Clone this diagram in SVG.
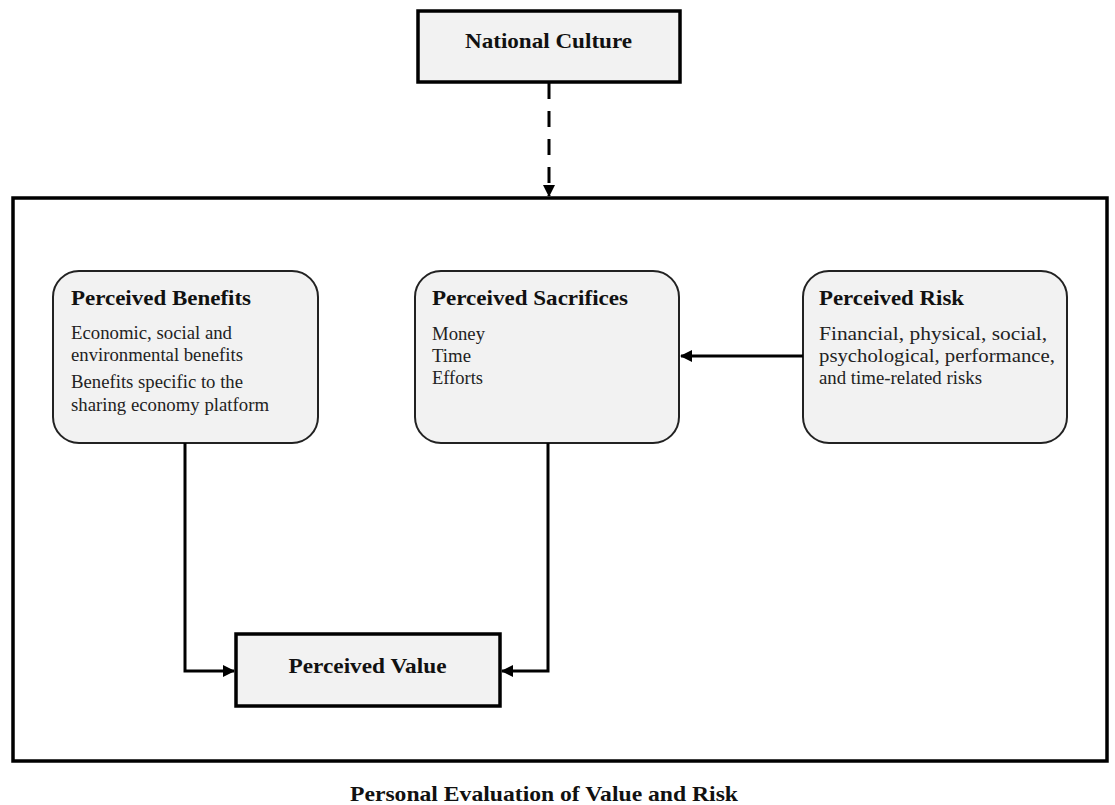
<svg xmlns="http://www.w3.org/2000/svg" width="1115" height="805" viewBox="0 0 1115 805">
<defs>
<style>
.box{fill:#f2f2f2;stroke:#000;stroke-width:3.5}
.rbox{fill:#f2f2f2;stroke:#222;stroke-width:2}
.outer{fill:none;stroke:#000;stroke-width:3.5}
.t{font-family:"Liberation Serif","Times New Roman",serif;font-weight:bold;fill:#111}
.b{font-family:"Liberation Serif","Times New Roman",serif;fill:#222;font-size:18.5px}
.c{fill:none;stroke:#000;stroke-width:3}
</style>
<marker id="ah" markerWidth="14" markerHeight="14" refX="11" refY="6" orient="auto" markerUnits="userSpaceOnUse">
<path d="M0,0 L12,6 L0,12 Z" fill="#000"/>
</marker>
</defs>
<rect width="1115" height="805" fill="#fff"/>

<g id="outer-frame">
<rect class="outer" x="13" y="198" width="1094" height="563"/>
</g>

<g id="national-culture">
<rect class="box" x="418" y="11" width="262" height="71"/>
<text class="t" x="548.5" y="48" font-size="21.5" text-anchor="middle" textLength="167" lengthAdjust="spacingAndGlyphs">National Culture</text>
</g>

<g id="perceived-benefits">
<rect class="rbox" x="53" y="271" width="265" height="172" rx="26" ry="26"/>
<text class="t" x="71" y="305" font-size="22" textLength="180" lengthAdjust="spacingAndGlyphs">Perceived Benefits</text>
<text class="b" x="71" y="339" textLength="161" lengthAdjust="spacingAndGlyphs">Economic, social and</text>
<text class="b" x="71" y="361" textLength="172" lengthAdjust="spacingAndGlyphs">environmental benefits</text>
<text class="b" x="71" y="388" textLength="172" lengthAdjust="spacingAndGlyphs">Benefits specific to the</text>
<text class="b" x="71" y="411" textLength="198" lengthAdjust="spacingAndGlyphs">sharing economy platform</text>
</g>

<g id="perceived-sacrifices">
<rect class="rbox" x="415" y="271" width="264" height="172" rx="26" ry="26"/>
<text class="t" x="432" y="305" font-size="22" textLength="196" lengthAdjust="spacingAndGlyphs">Perceived Sacrifices</text>
<text class="b" x="432" y="340" textLength="53" lengthAdjust="spacingAndGlyphs">Money</text>
<text class="b" x="432" y="362" textLength="39" lengthAdjust="spacingAndGlyphs">Time</text>
<text class="b" x="432" y="384" textLength="51" lengthAdjust="spacingAndGlyphs">Efforts</text>
</g>

<g id="perceived-risk">
<rect class="rbox" x="803" y="271" width="264" height="172" rx="26" ry="26"/>
<text class="t" x="819" y="305" font-size="22" textLength="145" lengthAdjust="spacingAndGlyphs">Perceived Risk</text>
<text class="b" x="819" y="340" textLength="228" lengthAdjust="spacingAndGlyphs">Financial, physical, social,</text>
<text class="b" x="819" y="362" textLength="236" lengthAdjust="spacingAndGlyphs">psychological, performance,</text>
<text class="b" x="819" y="384" textLength="163" lengthAdjust="spacingAndGlyphs">and time-related risks</text>
</g>

<g id="perceived-value">
<rect class="box" x="236" y="634" width="264" height="72"/>
<text class="t" x="367.5" y="673" font-size="21.5" text-anchor="middle" textLength="158" lengthAdjust="spacingAndGlyphs">Perceived Value</text>
</g>

<g id="connectors">
<path class="c" d="M549,83 V196" stroke-dasharray="16,12" marker-end="url(#ah)"/>
<path class="c" d="M803,356 H681" marker-end="url(#ah)"/>
<path class="c" d="M185,443 V671 H234" marker-end="url(#ah)"/>
<path class="c" d="M548,443 V671 H502" marker-end="url(#ah)"/>
</g>

<g id="caption">
<text class="t" x="544" y="801" font-size="22" text-anchor="middle" textLength="388" lengthAdjust="spacingAndGlyphs">Personal Evaluation of Value and Risk</text>
</g>
</svg>
